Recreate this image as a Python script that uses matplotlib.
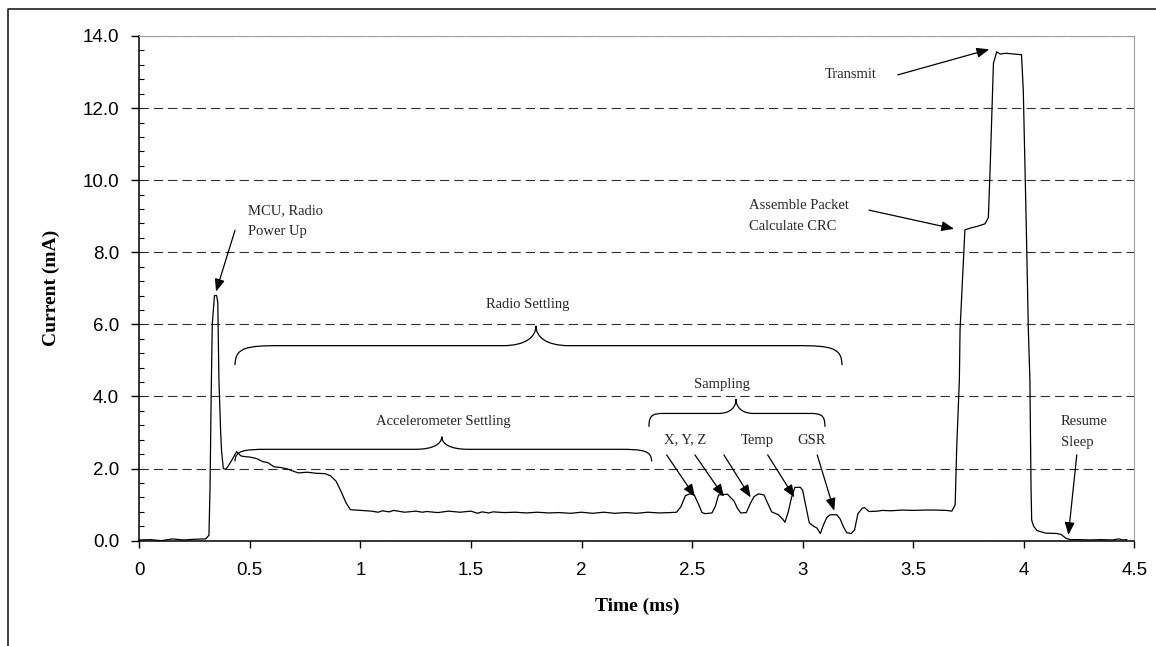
import matplotlib
matplotlib.use('Agg')
import matplotlib.pyplot as plt
from matplotlib.path import Path
from matplotlib.patches import PathPatch
from matplotlib.lines import Line2D
from matplotlib.ticker import MultipleLocator, FuncFormatter

plt.rcParams['lines.scale_dashes'] = False

# current trace (ms, mA)
time_ms = [0.0, 0.05, 0.1, 0.15, 0.2, 0.25, 0.3, 0.315, 0.32, 0.325, 0.33, 0.34, 0.35, 0.355,
           0.36, 0.368, 0.372, 0.38, 0.39, 0.40, 0.42, 0.44, 0.46, 0.48, 0.50, 0.53, 0.56, 0.58,
           0.61, 0.64, 0.67, 0.70, 0.72, 0.76, 0.80, 0.84, 0.865, 0.89, 0.91, 0.935, 0.955, 0.98,
           1.0, 1.05, 1.08, 1.1, 1.13, 1.15, 1.2, 1.25, 1.28, 1.3, 1.35, 1.4, 1.45, 1.5, 1.53,
           1.55, 1.58, 1.6, 1.65, 1.7, 1.75, 1.8, 1.85, 1.9, 1.95, 2.0, 2.05, 2.1, 2.15, 2.2,
           2.25, 2.3, 2.35, 2.4, 2.43,
           2.45, 2.47, 2.49, 2.51, 2.53, 2.545, 2.56, 2.59, 2.605, 2.62, 2.66, 2.69, 2.705, 2.72,
           2.745, 2.765, 2.78, 2.80, 2.825, 2.845, 2.86, 2.89, 2.91, 2.92, 2.935, 2.95, 2.965,
           2.99, 3.0, 3.015, 3.03, 3.05, 3.065, 3.08, 3.095, 3.11, 3.125, 3.155, 3.17, 3.185,
           3.2, 3.22, 3.235, 3.25, 3.27, 3.28, 3.30, 3.34, 3.36, 3.4, 3.45, 3.5, 3.55, 3.6, 3.65,
           3.675, 3.69, 3.697, 3.709, 3.712, 3.725, 3.734, 3.757, 3.79, 3.825, 3.84, 3.848,
           3.863, 3.878, 3.893, 3.92, 3.953, 3.99, 3.998, 4.011, 4.021, 4.028, 4.033, 4.036,
           4.045, 4.06, 4.1, 4.15, 4.17, 4.19, 4.21, 4.25, 4.3, 4.35, 4.4, 4.43, 4.45, 4.466]
current_ma = [0.02, 0.03, 0.0, 0.05, 0.02, 0.04, 0.05, 0.15, 1.5, 4.0, 6.0, 6.8, 6.8, 6.6,
              4.5, 3.0, 2.5, 2.0, 1.98, 2.05, 2.25, 2.47, 2.35, 2.33, 2.32, 2.28, 2.19, 2.17,
              2.05, 2.03, 1.99, 1.92, 1.88, 1.90, 1.87, 1.86, 1.80, 1.65, 1.40, 1.05, 0.86, 0.85,
              0.84, 0.82, 0.79, 0.83, 0.80, 0.84, 0.79, 0.82, 0.79, 0.81, 0.78, 0.82, 0.79, 0.82,
              0.76, 0.80, 0.77, 0.80, 0.78, 0.79, 0.77, 0.79, 0.77, 0.78, 0.76, 0.79, 0.76, 0.79,
              0.76, 0.78, 0.76, 0.79, 0.77, 0.78, 0.79,
              0.95, 1.25, 1.30, 1.27, 1.0, 0.78, 0.75, 0.77, 0.95, 1.27, 1.29, 1.1, 0.9, 0.77,
              0.78, 1.05, 1.22, 1.30, 1.27, 1.0, 0.8, 0.72, 0.6, 0.51, 0.8, 1.2, 1.48,
              1.48, 1.4, 0.95, 0.5, 0.4, 0.35, 0.2, 0.45, 0.65, 0.72, 0.72, 0.6, 0.38,
              0.22, 0.2, 0.3, 0.75, 0.9, 0.92, 0.81, 0.82, 0.84, 0.83, 0.85, 0.84, 0.85, 0.85, 0.84,
              0.82, 1.0, 2.6, 4.46, 5.84, 7.5, 8.62, 8.67, 8.72, 8.79, 8.96, 10.3,
              13.24, 13.56, 13.5, 13.52, 13.5, 13.48, 12.5, 8.9, 5.84, 4.46, 1.5, 0.57,
              0.4, 0.28, 0.21, 0.2, 0.17, 0.07, 0.03, 0.03, 0.02, 0.03, 0.02, 0.05, 0.02, 0.03]

x_ticks = [0, 0.5, 1, 1.5, 2, 2.5, 3, 3.5, 4, 4.5]
x_tick_labels = ['0', '0.5', '1', '1.5', '2', '2.5', '3', '3.5', '4', '4.5']

SERIF = 'Liberation Serif'
NOTE_SIZE = 10.5
NOTE_COLOR = '#262626'


def draw_brace(ax, x0, x1, xc, y_body, y_tip, y_end, end_w, tip_w):
    verts = [(x0, y_end),
             (x0, y_body - (y_body - y_end) * 0.1), (x0 + end_w * 0.25, y_body), (x0 + end_w, y_body),
             (xc - tip_w, y_body),
             (xc - tip_w * 0.3, y_body), (xc, y_body + (y_tip - y_body) * 0.45), (xc, y_tip),
             (xc, y_body + (y_tip - y_body) * 0.45), (xc + tip_w * 0.3, y_body), (xc + tip_w, y_body),
             (x1 - end_w, y_body),
             (x1 - end_w * 0.25, y_body), (x1, y_body - (y_body - y_end) * 0.1), (x1, y_end)]
    codes = [Path.MOVETO,
             Path.CURVE4, Path.CURVE4, Path.CURVE4,
             Path.LINETO,
             Path.CURVE4, Path.CURVE4, Path.CURVE4,
             Path.CURVE4, Path.CURVE4, Path.CURVE4,
             Path.LINETO,
             Path.CURVE4, Path.CURVE4, Path.CURVE4]
    ax.add_patch(PathPatch(Path(verts, codes), facecolor='none', edgecolor='black', lw=0.9))


def arrow(ax, start, end):
    ax.annotate('', xy=end, xytext=start,
                arrowprops=dict(arrowstyle='-|>,head_length=0.75,head_width=0.3',
                                color='black', lw=0.9, shrinkA=0, shrinkB=0))


def note(ax, x, y, s, ha='center'):
    ax.text(x, y, s, family=SERIF, fontsize=NOTE_SIZE, color=NOTE_COLOR,
            ha=ha, va='center', linespacing=1.75)


fig = plt.figure(figsize=(11.56, 6.46), dpi=100)
ax = fig.add_axes([0.1205, 0.163, 0.8607, 0.7813])

ax.plot(time_ms, current_ma, color='black', lw=0.9)

ax.set_xlim(0, 4.5)
ax.set_ylim(0, 14)
ax.set_xticks(x_ticks)
ax.set_xticklabels(x_tick_labels)
ax.yaxis.set_major_locator(MultipleLocator(2))
ax.yaxis.set_minor_locator(MultipleLocator(0.4))
ax.yaxis.set_major_formatter(FuncFormatter(lambda v, p: '%.1f' % v))

for lab in ax.get_xticklabels() + ax.get_yticklabels():
    lab.set_family('Liberation Sans')
    lab.set_fontsize(13.5)
ax.tick_params(axis='x', which='major', direction='out', length=5, width=1, pad=10)
ax.tick_params(axis='y', which='major', direction='out', length=5.5, width=1, pad=9)
ax.tick_params(axis='y', which='minor', direction='in', length=3.6, width=0.8)

ax.yaxis.grid(True, which='major', linestyle=(0, (6.7, 3.6)), color='#303030', lw=0.8)
gl = ax.yaxis.get_gridlines()
gl[-1].set_color('#909090')
ax.set_axisbelow(True)

ax.spines['top'].set_color('#a0a0a0')
ax.spines['right'].set_color('#a0a0a0')
ax.spines['left'].set_linewidth(1.1)
ax.spines['bottom'].set_linewidth(1.1)

ax.set_xlabel('Time (ms)', family=SERIF, fontweight='bold', fontsize=14, labelpad=14)
ax.set_ylabel('Current (mA)', family=SERIF, fontweight='bold', fontsize=14, labelpad=16)

# braces
draw_brace(ax, 0.433, 3.178, 1.794, 5.41, 5.96, 4.87, 0.2, 0.15)
draw_brace(ax, 0.433, 2.317, 1.368, 2.535, 2.885, 2.2, 0.15, 0.12)
draw_brace(ax, 2.305, 3.101, 2.699, 3.53, 3.93, 3.16, 0.07, 0.08)

# labels
note(ax, 0.493, 8.87, 'MCU, Radio\nPower Up', ha='left')
arrow(ax, (0.433, 8.61), (0.347, 6.91))
note(ax, 1.756, 6.54, 'Radio Settling')
note(ax, 1.374, 3.30, 'Accelerometer Settling')
note(ax, 2.636, 4.32, 'Sampling')
note(ax, 2.47, 2.79, 'X, Y, Z')
note(ax, 2.796, 2.79, 'Temp')
note(ax, 3.043, 2.79, 'GSR')
arrow(ax, (2.385, 2.38), (2.513, 1.22))
arrow(ax, (2.513, 2.38), (2.644, 1.22))
arrow(ax, (2.644, 2.38), (2.765, 1.20))
arrow(ax, (2.842, 2.38), (2.963, 1.20))
arrow(ax, (3.066, 2.38), (3.143, 0.83))
note(ax, 3.219, 12.92, 'Transmit')
arrow(ax, (3.43, 12.92), (3.844, 13.63))
note(ax, 2.759, 9.0, 'Assemble Packet\nCalculate CRC', ha='left')
arrow(ax, (3.30, 9.17), (3.685, 8.65))
note(ax, 4.167, 3.02, 'Resume\nSleep', ha='left')
arrow(ax, (4.24, 2.38), (4.202, 0.16))

# outer frame (left and top edges visible in the capture)
fig.add_artist(Line2D([0.0069, 0.0069, 1.0], [0.0, 0.986, 0.986], transform=fig.transFigure,
                      color='#202020', lw=1.2))

fig.savefig('out.png', dpi=100)
